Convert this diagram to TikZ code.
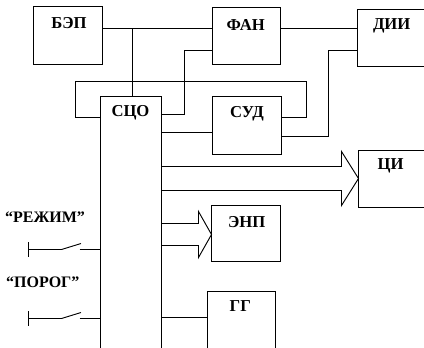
\documentclass[tikz,border=0pt]{standalone}
\usepackage{fontspec}
\setmainfont{Liberation Serif}
\usetikzlibrary{fit}
\begin{document}
\begin{tikzpicture}[x=0.75pt,y=-0.75pt,line width=0.7pt,
  box/.style={draw,inner sep=0pt,outer sep=0pt},
  lab/.style={inner sep=0pt,font=\fontsize{12.5}{14}\selectfont\bfseries},
  qlab/.style={inner sep=0pt,font=\fontsize{12}{14}\selectfont\bfseries}]
\useasboundingbox (0,0) rectangle (424,347);
\clip (0,0) rectangle (424,347);
% boxes
\node[box,fit={(33.5,6.5)(102.5,64.5)}] (bep) {};
\node[box,fit={(212.5,7.5)(280.5,64.5)}] (fan) {};
\node[box,fit={(357.5,9.5)(440,66.5)}] (dii) {};
\node[box,fit={(100.5,96.5)(161.5,360)}] (sco) {};
\node[box,fit={(212.5,96.5)(281.5,154.5)}] (sud) {};
\node[box,fit={(358.5,150.5)(440,207.5)}] (ci) {};
\node[box,fit={(211.5,205.5)(280.5,261.5)}] (enp) {};
\node[box,fit={(207.5,291.5)(275.5,360)}] (gg) {};
% labels
\node[lab] (lbep) at (69,23.3) {БЭП};
\node[lab] (lfan) at (245.7,24.7) {ФАН};
\node[lab] (ldii) at (391.7,26) {ДИИ};
\node[lab] (lsco) at (130.5,112.5) {СЦО};
\node[lab] (lsud) at (247,113.3) {СУД};
\node[lab] (lci) at (390.5,165.5) {ЦИ};
\node[lab] (lenp) at (246.7,221.7) {ЭНП};
\node[lab] (lgg) at (240.3,306) {ГГ};
\node[qlab] (lrej) at (45,217) {“РЕЖИМ”};
\node[qlab] (lpor) at (42.8,282.5) {“ПОРОГ”};
% y levels
\coordinate (yA) at (0,28.5);
\coordinate (yB) at (0,50.5);
\coordinate (yC) at (0,114.5);
\coordinate (yD) at (0,117.5);
\coordinate (yE) at (0,132.5);
\coordinate (yF) at (0,136.5);
\coordinate (j1) at (132.5,28.5);
% connectors
\draw (bep.east |- yA) -- (fan.west |- yA);
\draw (j1) -- (j1 |- sco.north);
\draw (fan.east |- yA) -- (dii.west |- yA);
\draw (sco.east |- yC) -- ++(23,0) |- (fan.west |- yB);
\draw (sco.west |- yD) -| (75.5,81.5) -- (306.5,81.5) |- (sud.east |- yD);
\draw (sco.east |- yE) -- (sud.west |- yE);
\draw (sud.east |- yF) -- ++(47,0) |- (dii.west |- yB);
% wide arrow to CI
\coordinate (ct) at (0,178.5);
\draw (sco.east |- 0,166.5) -- (341.5,166.5) -- (341.5,151.5) -- (ci.west |- ct)
      -- (341.5,205.5) -- (341.5,190.5) -- (sco.east |- 0,190.5);
% wide arrow to ENP
\coordinate (et) at (0,234.5);
\draw (sco.east |- 0,223.5) -- (198.5,223.5) -- (198.5,211.5) -- (enp.west |- et)
      -- (198.5,257.5) -- (198.5,245.5) -- (sco.east |- 0,245.5);
% GG
\coordinate (yG) at (0,317.5);
\draw (sco.east |- yG) -- (gg.west |- yG);
% switches
\coordinate (s1) at (0,249.5);
\coordinate (s2) at (0,318.5);
\draw (28.5,242) -- (28.5,257);
\draw (28.5,249.5) -- (61.5,249.5) -- (81,243.5);
\draw (79.5,249.5) -- (sco.west |- s1);
\draw (28.5,311) -- (28.5,326);
\draw (28.5,318.5) -- (61.5,318.5) -- (81,312.5);
\draw (79.5,318.5) -- (sco.west |- s2);
\end{tikzpicture}
\end{document}
